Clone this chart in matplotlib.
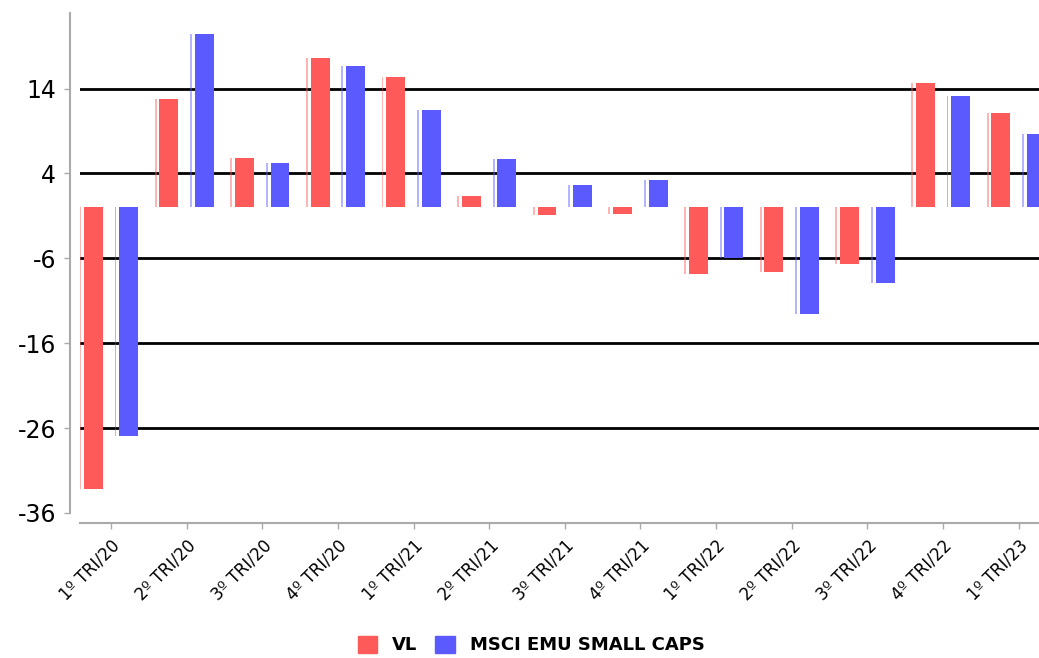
import numpy as np
import matplotlib
matplotlib.use('Agg')
import matplotlib.pyplot as plt
from matplotlib.patches import Patch

# quarters and quarterly returns (%)
quarters = ['1º TRI/20', '2º TRI/20', '3º TRI/20', '4º TRI/20',
            '1º TRI/21', '2º TRI/21', '3º TRI/21', '4º TRI/21',
            '1º TRI/22', '2º TRI/22', '3º TRI/22', '4º TRI/22',
            '1º TRI/23']
vl = [-33.2, 12.8, 5.8, 17.6, 15.4, 1.3, -0.9, -0.8, -7.9, -7.6, -6.7, 14.7, 11.1]
msci = [-26.9, 20.4, 5.2, 16.7, 11.5, 5.7, 2.6, 3.2, -6.0, -12.6, -8.9, 13.1, 8.6]
yticks = [-36, -26, -16, -6, 4, 14]

red = '#FF5A5A'
blue = '#5A5AFF'

fig = plt.figure(figsize=(10.39, 6.58), dpi=100)
ax = fig.add_axes([0.077, 0.2204, 0.923, 0.7598])

x = np.arange(len(quarters))
off = 0.235
w = 0.25

for vals, sign, col in [(vl, -1, red), (msci, 1, blue)]:
    c = x + sign * off
    ax.bar(c, vals, width=w, color=col, zorder=3)
    # thin pale stripe on the left of each bar
    ax.bar(c - 0.175, vals, width=0.025, color=col, alpha=0.45, zorder=3)

ax.set_xlim(-0.41, 12.27)
ax.set_ylim(-36, 22.9)
ax.set_yticks(yticks)
ax.set_yticklabels([str(t) for t in yticks])
for t in yticks[1:]:
    ax.axhline(t, color='black', lw=2, zorder=1)

ax.set_xticks(x)
ax.set_xticklabels(quarters)

for s in ['top', 'right']:
    ax.spines[s].set_visible(False)
for s in ['left', 'bottom']:
    ax.spines[s].set_position(('outward', 7.2))
    ax.spines[s].set_color('#AAAAAA')
    ax.spines[s].set_linewidth(1.5)
ax.tick_params(axis='both', color='#AAAAAA', length=4, width=1)
ax.tick_params(axis='y', pad=6, labelsize=17)
ax.tick_params(axis='x', pad=6, labelsize=12)
for lab in ax.get_xticklabels():
    lab.set_rotation(45)
    lab.set_ha('right')
    lab.set_va('top')
    lab.set_rotation_mode('anchor')

handles = [Patch(color=red), Patch(color=blue)]
fig.legend(handles, ['VL', 'MSCI EMU SMALL CAPS'], loc='center',
           bbox_to_anchor=(531 / 1039, 1 - 645 / 658), ncol=2, frameon=False,
           prop={'size': 13, 'weight': 'bold'}, handlelength=1.1,
           handleheight=1.1, columnspacing=1.0, handletextpad=0.8)

plt.savefig('out.png', dpi=100)
